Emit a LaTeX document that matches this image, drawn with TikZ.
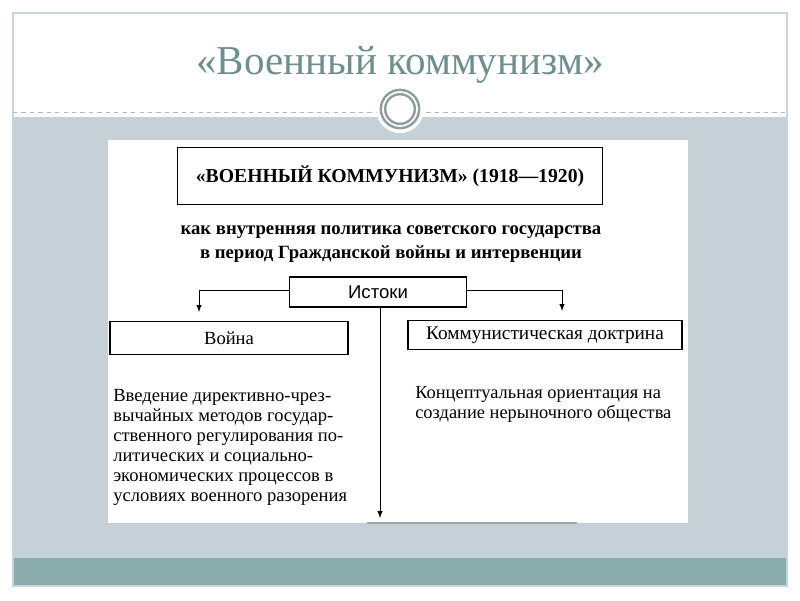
\documentclass[tikz,border=0pt]{standalone}
\usepackage{fontspec}
\setmainfont{Liberation Serif}
\newfontfamily\sansfont{Liberation Sans}
\usepackage{tikz}
\usetikzlibrary{arrows,positioning,calc}
\usepackage{xcolor}
\definecolor{slide-gray}{RGB}{197,209,215}
\definecolor{slide-teal}{RGB}{138,171,171}
\definecolor{slide-title}{RGB}{111,142,142}
\definecolor{slide-frame}{RGB}{200,212,216}
\definecolor{slide-ring}{RGB}{140,158,160}

\begin{document}
\begin{tikzpicture}[x=0.025cm, y=-0.025cm,
    box/.style={rectangle, draw, line width=0.8pt, inner sep=0pt},
    link/.style={line width=0.7pt, -latex},
    plain/.style={align=left, anchor=north west, inner sep=0pt, font=\fontsize{13.2}{14.2}\selectfont}]
    \useasboundingbox (0,0) rectangle (800,600);

    % Slide background
    \fill[slide-gray] (13,117) rectangle (787,558);
    \fill[slide-teal] (13,558) rectangle (787,586);
    \draw[slide-frame, line width=1pt] (13,13) rectangle (787,586);
    \draw[slide-ring!70, dashed, line width=0.6pt] (13,112) -- (787,112);

    % Title
    \node[font=\fontsize{29.2}{31}\selectfont, text=slide-title] (title) at (400,65) {«Военный коммунизм»};

    % Ring
    \fill[white] (400,109) circle (24);
    \draw[slide-ring, line width=1.8pt, double=white, double distance=1.2pt] (400,109) circle (17);

    % Scanned scheme
    \fill[white] (108,140) rectangle (688,523);
    \draw[gray!70, line width=0.8pt] (367,523) -- (577,523);

    \node[box, minimum width=10.63cm, minimum height=1.43cm, font=\fontsize{14}{16}\selectfont\bfseries] (head) at (390,176) {«ВОЕННЫЙ КОММУНИЗМ» (1918—1920)};
    \node[align=center, font=\fontsize{13.3}{17}\selectfont\bfseries] (sub) at (391,244) {как внутренняя политика советского государства\\в период Гражданской войны и интервенции};

    \node[box, minimum width=4.43cm, minimum height=0.75cm, font=\sansfont\fontsize{13.2}{15}\selectfont] (istoki) at (378,292) {Истоки};
    \node[box, minimum width=5.95cm, minimum height=0.83cm, font=\fontsize{13.2}{15}\selectfont] (war) at (229,338) {Война};
    \node[box, minimum width=6.85cm, minimum height=0.73cm, font=\fontsize{13.7}{15}\selectfont] (doctrine) at (545,335) {Коммунистическая доктрина};

    \node[plain] (wartext) at (113,389) {Введение директивно-чрез-\\вычайных методов государ-\\ственного регулирования по-\\литических и социально-\\экономических процессов в\\условиях военного разорения};
    \node[plain, font=\fontsize{13.1}{14}\selectfont] (doctext) at (415,386) {Концептуальная ориентация на\\создание нерыночного общества};

    % Connections
    \coordinate (warin) at (199,312);
    \coordinate (docin) at (562,311);
    \coordinate (down) at (380,518);
    \draw[link] ([yshift=0.05cm]istoki.west) -| (warin);
    \draw[link] ([yshift=0.05cm]istoki.east) -| (docin);
    \draw[link] (istoki.south -| down) -- (down);
\end{tikzpicture}
\end{document}
